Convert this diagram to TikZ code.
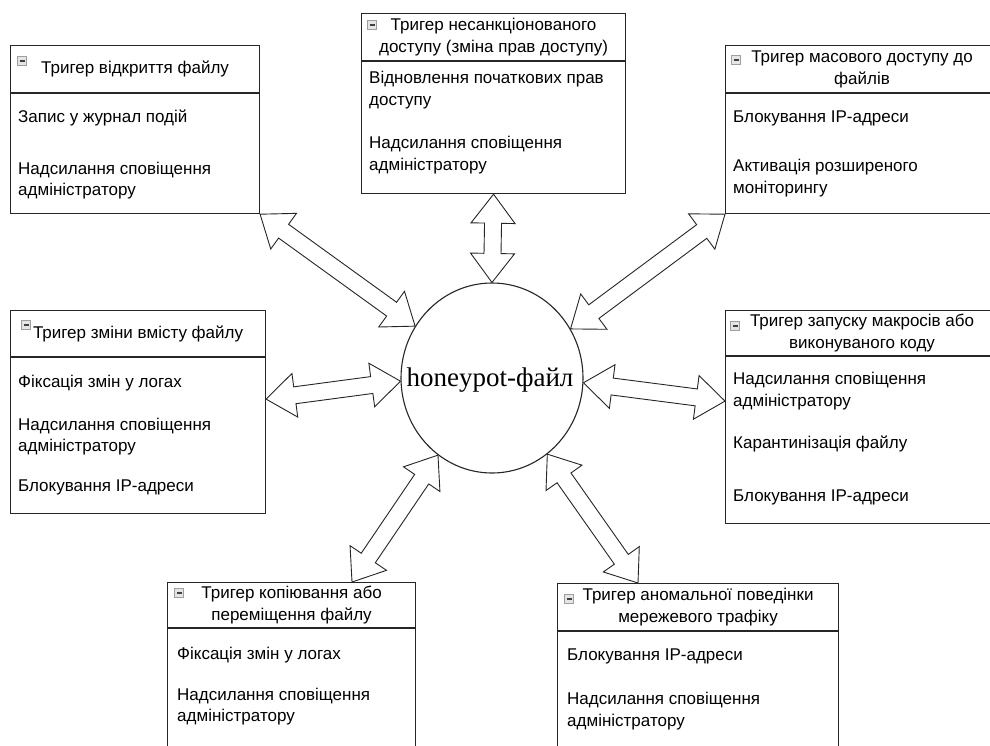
\documentclass[tikz,border=0pt]{standalone}
\usepackage{fontspec}
\setmainfont{Liberation Sans}
\newfontfamily\timesfont{Liberation Serif}
\usetikzlibrary{calc, positioning, shapes.geometric}
\newcommand{\arrhead}{29pt}
\newcommand{\arrwide}{22pt}
\newcommand{\arrshaft}{8.5pt}
% fat outlined double arrow between two named points
\newcommand{\biarrow}[2]{%
	\draw[fatarrow] (#1)
	-- ($(#1)!\arrhead!(#2)!\arrwide!90:(#2)$)
	-- ($(#1)!\arrhead!(#2)!\arrshaft!90:(#2)$)
	-- ($(#2)!\arrhead!(#1)!\arrshaft!-90:(#1)$)
	-- ($(#2)!\arrhead!(#1)!\arrwide!-90:(#1)$)
	-- (#2)
	-- ($(#2)!\arrhead!(#1)!\arrwide!90:(#1)$)
	-- ($(#2)!\arrhead!(#1)!\arrshaft!90:(#1)$)
	-- ($(#1)!\arrhead!(#2)!\arrshaft!-90:(#2)$)
	-- ($(#1)!\arrhead!(#2)!\arrwide!-90:(#2)$)
	-- cycle;}
\tikzset{
	header/.style={rectangle, draw=black!85, line width=1.1pt, anchor=north west, inner sep=0pt, align=center, font=\fontsize{17}{22}\selectfont},
	bodyframe/.style={rectangle, draw=black!85, line width=1.1pt, anchor=north west, inner sep=0pt},
	bodytext/.style={anchor=north west, inner sep=0pt, align=left, font=\fontsize{17}{21.5}\selectfont},
	minusicon/.style={rectangle, draw=gray!75, fill=gray!20, minimum size=9pt, inner sep=0pt, line width=0.7pt,
		path picture={\draw[black!75, line width=1.3pt] ([xshift=2pt]path picture bounding box.west) -- ([xshift=-2pt]path picture bounding box.east);}},
	honeypot/.style={ellipse, draw=black!85, line width=1.1pt, minimum width=182pt, minimum height=190pt, inner sep=0pt},
	hptext/.style={inner sep=0pt, font=\timesfont\fontsize{27}{30}\selectfont},
	fatarrow/.style={draw=black!85, line width=0.9pt, fill=white, line join=miter},
}
\begin{document}
\begin{tikzpicture}[x=1pt, y=-1pt]
	\fill[white] (0,0) rectangle (990,745);
	\clip (0,0) rectangle (990,745);

	\node[honeypot] (hp) at (492,378) {};
	\node[hptext] (hplabel) at ([xshift=-2pt,yshift=-2pt]hp.center) {honeypot-файл};

	% trigger boxes
	\node[header, minimum width=249pt, minimum height=47pt] (h1) at (10,45) {Тригер відкриття файлу};
	\node[bodyframe, minimum width=249pt, minimum height=120pt] (b1) at (h1.south west) {};
	\node[minusicon] (i1) at ($(h1.north west)+(12,16)$) {};
	\node[bodytext] (t1) at ($(b1.north west)+(8,17)$) {Запис у журнал подій\\[30pt]Надсилання сповіщення\\адміністратору};

	\node[header, minimum width=264pt, minimum height=47pt] (h2) at (361,13) {Тригер несанкціонованого\\доступу (зміна прав доступу)};
	\node[bodyframe, minimum width=264pt, minimum height=132pt] (b2) at (h2.south west) {};
	\node[minusicon] (i2) at ($(h2.north west)+(11,12)$) {};
	\node[bodytext] (t2) at ($(b2.north west)+(8,10)$) {Відновлення початкових прав\\доступу\\[22pt]Надсилання сповіщення\\адміністратору};

	\node[header, minimum width=273pt, minimum height=47pt] (h3) at (725,45) {Тригер масового доступу до\\файлів};
	\node[bodyframe, minimum width=273pt, minimum height=120pt] (b3) at (h3.south west) {};
	\node[minusicon] (i3) at ($(h3.north west)+(11,15)$) {};
	\node[bodytext] (t3) at ($(b3.north west)+(8,17)$) {Блокування IP-адреси\\[28pt]Активація розширеного\\моніторингу};

	\node[header, minimum width=255pt, minimum height=46pt] (h4) at (10,310) {Тригер зміни вмісту файлу};
	\node[bodyframe, minimum width=255pt, minimum height=156pt] (b4) at (h4.south west) {};
	\node[minusicon] (i4) at ($(h4.north west)+(16,15)$) {};
	\node[bodytext] (t4) at ($(b4.north west)+(8,18)$) {Фіксація змін у логах\\[21pt]Надсилання сповіщення\\адміністратору\\[18pt]Блокування IP-адреси};

	\node[header, minimum width=273pt, minimum height=45pt] (h5) at (725,310) {Тригер запуску макросів або\\виконуваного коду};
	\node[bodyframe, minimum width=273pt, minimum height=167pt] (b5) at (h5.south west) {};
	\node[minusicon] (i5) at ($(h5.north west)+(10,16)$) {};
	\node[bodytext] (t5) at ($(b5.north west)+(8,16)$) {Надсилання сповіщення\\адміністратору\\[21pt]Карантинізація файлу\\[31pt]Блокування IP-адреси};

	\node[header, minimum width=248pt, minimum height=45pt] (h6) at (167,582) {Тригер копіювання або\\переміщення файлу};
	\node[bodyframe, minimum width=248pt, minimum height=150pt] (b6) at (h6.south west) {};
	\node[minusicon] (i6) at ($(h6.north west)+(12,11)$) {};
	\node[bodytext] (t6) at ($(b6.north west)+(10,19)$) {Фіксація змін у логах\\[19pt]Надсилання сповіщення\\адміністратору};

	\node[header, minimum width=281pt, minimum height=47pt] (h7) at (557,583) {Тригер аномальної поведінки\\мережевого трафіку};
	\node[bodyframe, minimum width=281pt, minimum height=150pt] (b7) at (h7.south west) {};
	\node[minusicon] (i7) at ($(h7.north west)+(12,16)$) {};
	\node[bodytext] (t7) at ($(b7.north west)+(10,17)$) {Блокування IP-адреси\\[23pt]Надсилання сповіщення\\адміністратору};

	% arrow ends on the boxes
	\coordinate (e4) at ([yshift=-42pt]b4.north east);
	\coordinate (e5) at ([yshift=-45pt]b5.north west);
	\coordinate (e6) at ([xshift=185pt]h6.north west);
	\coordinate (e7) at ([xshift=81pt]h7.north west);

	\biarrow{b1.south east}{hp.146}
	\biarrow{b2.south}{hp.90}
	\biarrow{b3.south west}{hp.32}
	\biarrow{e4}{hp.182}
	\biarrow{e5}{hp.357}
	\biarrow{e6}{hp.235}
	\biarrow{e7}{hp.306}
\end{tikzpicture}
\end{document}
